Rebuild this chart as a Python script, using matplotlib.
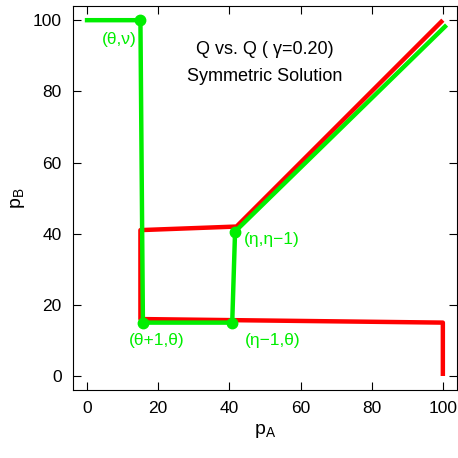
import matplotlib
matplotlib.use("Agg")
import matplotlib.pyplot as plt

plt.rcParams["font.family"] = ["Liberation Sans", "DejaVu Sans"]

# red: best response curve (Q vs. Q)
red_x = [100, 100, 15, 15, 42, 100]
red_y = [0, 15, 16, 41, 42, 100]
# green: symmetric solution path
green_x = [0, 15, 15.7, 40.8, 41.6, 100.6]
green_y = [100, 100, 15, 15, 40.6, 98.2]
# marked points
dot_x = [15, 15.7, 40.8, 41.6]
dot_y = [100, 15, 15, 40.6]
dot_labels = ["(θ,ν)", "(θ+1,θ)", "(η−1,θ)", "(η,η−1)"]
label_pos = [(9, 94.5), (19.5, 10), (52.3, 10), (52, 38.5)]

ticks = [0, 20, 40, 60, 80, 100]

fig = plt.figure(figsize=(4.58, 4.58), dpi=100)
ax = fig.add_axes([0.159, 0.148, 0.839, 0.839])

ax.plot(red_x, red_y, color="#ff0000", lw=3.2, solid_capstyle="butt", zorder=2)
ax.plot(green_x, green_y, color="#00ee00", lw=3.2, zorder=3)
ax.plot(dot_x, dot_y, "o", color="#00ee00", ms=7.5, zorder=4)
for t, (x, y) in zip(dot_labels, label_pos):
    ax.text(x, y, t, color="#00ee00", fontsize=12.5, ha="center", va="center")

ax.text(50, 91.7, "Q vs. Q ( γ=0.20)", fontsize=13, ha="center", va="center")
ax.text(50, 84.2, "Symmetric Solution", fontsize=13, ha="center", va="center")

ax.set_xlim(-4, 104)
ax.set_ylim(-4, 104)
ax.set_xticks(ticks)
ax.set_yticks(ticks)
ax.tick_params(direction="in", top=True, right=True, labelsize=12.5, length=6, pad=8)
ax.set_xlabel("p$_\\mathregular{A}$", fontsize=14, labelpad=4)
ax.set_ylabel("p$_\\mathregular{B}$", fontsize=14, labelpad=4)

fig.savefig("out.png", dpi=100)
